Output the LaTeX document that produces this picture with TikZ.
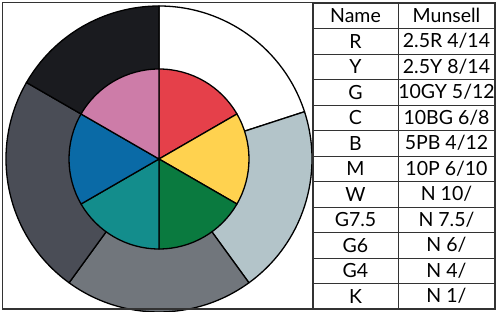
\documentclass[tikz,border=0pt]{standalone}
\usepackage{fontspec}
\setmainfont{Lato}
\usetikzlibrary{positioning}
\definecolor{HueR}{HTML}{E5404A}
\definecolor{HueY}{HTML}{FFD24F}
\definecolor{HueG}{HTML}{0A7A3F}
\definecolor{HueC}{HTML}{138D8C}
\definecolor{HueB}{HTML}{0A6AA6}
\definecolor{HueM}{HTML}{CD7CA8}
\definecolor{GreyLight}{HTML}{B3C4C9}
\definecolor{GreyMid}{HTML}{71767C}
\definecolor{GreyDark}{HTML}{4A4D56}
\definecolor{Ink}{HTML}{1A1B1F}
\definecolor{Frame}{HTML}{333333}

\begin{document}
\begin{tikzpicture}[x=1pt,y=1pt,
          node distance=0pt,
          sector/.style={draw=black,line width=1.3pt,line join=round},
          namecell/.style={draw=Frame,line width=0.9pt,outer sep=0pt,inner sep=0pt,
            minimum width=85pt,minimum height=25.5pt,font=\fontsize{19.5}{19.5}\selectfont},
          valcell/.style={namecell,minimum width=97pt}]
        \useasboundingbox (0,0) rectangle (499,312);
        \coordinate (hub) at (159,153);
        % outer ring
        \draw[sector,fill=white] (hub) -- ++(90:153) arc[start angle=90,end angle=18,radius=153] -- cycle;
        \draw[sector,fill=GreyLight] (hub) -- ++(18:153) arc[start angle=18,end angle=-54,radius=153] -- cycle;
        \draw[sector,fill=GreyMid] (hub) -- ++(-54:153) arc[start angle=-54,end angle=-126,radius=153] -- cycle;
        \draw[sector,fill=GreyDark] (hub) -- ++(-126:153) arc[start angle=-126,end angle=-210,radius=153] -- cycle;
        \draw[sector,fill=Ink] (hub) -- ++(150:153) arc[start angle=150,end angle=90,radius=153] -- cycle;
        % inner hues
        \draw[sector,fill=HueR] (hub) -- ++(90:90) arc[start angle=90,end angle=30,radius=90] -- cycle;
        \draw[sector,fill=HueY] (hub) -- ++(30:90) arc[start angle=30,end angle=-30,radius=90] -- cycle;
        \draw[sector,fill=HueG] (hub) -- ++(-30:90) arc[start angle=-30,end angle=-90,radius=90] -- cycle;
        \draw[sector,fill=HueC] (hub) -- ++(-90:90) arc[start angle=-90,end angle=-150,radius=90] -- cycle;
        \draw[sector,fill=HueB] (hub) -- ++(-150:90) arc[start angle=-150,end angle=-210,radius=90] -- cycle;
        \draw[sector,fill=HueM] (hub) -- ++(150:90) arc[start angle=150,end angle=90,radius=90] -- cycle;
        % table
        \node[namecell] (head) at (355.5,296.25) {Name};
        \node[valcell,right=of head] (headval) {Munsell};
        \node[namecell,below=of head] (red) {R};
        \node[valcell,right=of red] (redval) {2.5R 4/14};
        \node[namecell,below=of red] (yellow) {Y};
        \node[valcell,right=of yellow] (yellowval) {2.5Y 8/14};
        \node[namecell,below=of yellow] (green) {G};
        \node[valcell,right=of green] (greenval) {10GY 5/12};
        \node[namecell,below=of green] (cyan) {C};
        \node[valcell,right=of cyan] (cyanval) {10BG 6/8};
        \node[namecell,below=of cyan] (blue) {B};
        \node[valcell,right=of blue] (blueval) {5PB 4/12};
        \node[namecell,below=of blue] (magenta) {M};
        \node[valcell,right=of magenta] (magentaval) {10P 6/10};
        \node[namecell,below=of magenta] (white) {W};
        \node[valcell,right=of white] (whiteval) {N 10/};
        \node[namecell,below=of white] (grey75) {G7.5};
        \node[valcell,right=of grey75] (grey75val) {N 7.5/};
        \node[namecell,below=of grey75] (grey6) {G6};
        \node[valcell,right=of grey6] (grey6val) {N 6/};
        \node[namecell,below=of grey6] (grey4) {G4};
        \node[valcell,right=of grey4] (grey4val) {N 4/};
        \node[namecell,below=of grey4] (black) {K};
        \node[valcell,right=of black] (blackval) {N 1/};
        % frame
        \draw[Frame,line width=1.4pt] (2.5,3) rectangle (495,309.5);
        \draw[Frame,line width=1.2pt] (313,3) -- (313,309.5);
      \end{tikzpicture}
\end{document}
